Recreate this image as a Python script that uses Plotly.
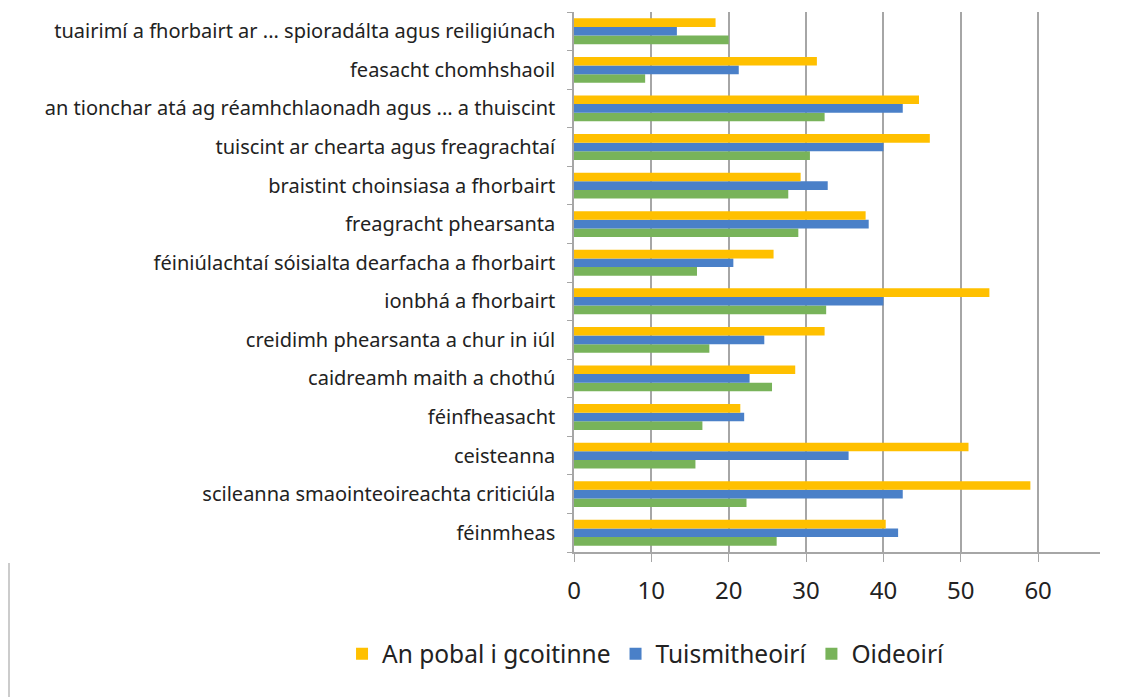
import plotly.graph_objects as go

categories = [
    "féinmheas",
    "scileanna smaointeoireachta criticiúla",
    "ceisteanna",
    "féinfheasacht",
    "caidreamh maith a chothú",
    "creidimh phearsanta a chur in iúl",
    "ionbhá a fhorbairt",
    "féiniúlachtaí sóisialta dearfacha a fhorbairt",
    "freagracht phearsanta",
    "braistint choinsiasa a fhorbairt",
    "tuiscint ar chearta agus freagrachtaí",
    "an tionchar atá ag réamhchlaonadh agus ... a thuiscint",
    "feasacht chomhshaoil",
    "tuairimí a fhorbairt ar ... spioradálta agus reiligiúnach",
]
an_pobal = [40.3, 59.0, 51.0, 21.5, 28.6, 32.4, 53.7, 25.8, 37.7, 29.3, 46.0, 44.6, 31.4, 18.3]
tuismitheoiri = [41.9, 42.5, 35.5, 22.0, 22.7, 24.6, 40.0, 20.6, 38.1, 32.8, 40.0, 42.5, 21.3, 13.3]
oideoiri = [26.2, 22.3, 15.7, 16.6, 25.6, 17.5, 32.6, 15.9, 29.0, 27.7, 30.5, 32.4, 9.2, 20.0]

x_ticks = [0, 10, 20, 30, 40, 50, 60]

fig = go.Figure()
fig.add_trace(go.Bar(y=categories, x=oideoiri, name="Oideoirí", orientation="h",
                     marker=dict(color="#78B35A", line=dict(width=0))))
fig.add_trace(go.Bar(y=categories, x=tuismitheoiri, name="Tuismitheoirí", orientation="h",
                     marker=dict(color="#4A80C8", line=dict(width=0))))
fig.add_trace(go.Bar(y=categories, x=an_pobal, name="An pobal i gcoitinne", orientation="h",
                     marker=dict(color="#FFC000", line=dict(width=0))))

fig.update_layout(
    width=1129, height=697,
    margin=dict(l=566, r=37, t=4, b=153),
    paper_bgcolor="white", plot_bgcolor="white",
    barmode="group", bargap=0.33, bargroupgap=0.0,
    font=dict(family="Noto Sans", color="#222222"),
    showlegend=True,
    legend=dict(orientation="h", traceorder="reversed",
                x=-0.441, xanchor="left", y=-0.1885, yanchor="middle",
                font=dict(size=24.5, color="#222222"), itemwidth=30),
)
fig.update_xaxes(
    range=[0, 68], tickvals=x_ticks, showgrid=True, gridcolor="#A6A6A6", gridwidth=1.5,
    showline=True, linecolor="#A6A6A6", linewidth=1.5, ticks="outside", ticklen=8,
    tickcolor="#A6A6A6", tickfont=dict(size=24, color="#222222"), ticklabelstandoff=8,
    zeroline=False, automargin=False,
)
fig.update_yaxes(
    categoryorder="array", categoryarray=categories,
    showline=True, linecolor="#A6A6A6", linewidth=1.5, ticks="outside", ticklen=5,
    tickcolor="#A6A6A6", tickson="boundaries", tickfont=dict(size=20, color="#222222"),
    ticklabelstandoff=13, showgrid=False, automargin=False,
)
fig.add_shape(type="line", xref="paper", yref="paper",
              x0=(1 - 566) / 526, x1=(1 - 566) / 526, y0=(544 - 555) / 540, y1=(544 - 697) / 540,
              line=dict(color="#BBBBBB", width=1.5))

fig.write_html("out.html")
